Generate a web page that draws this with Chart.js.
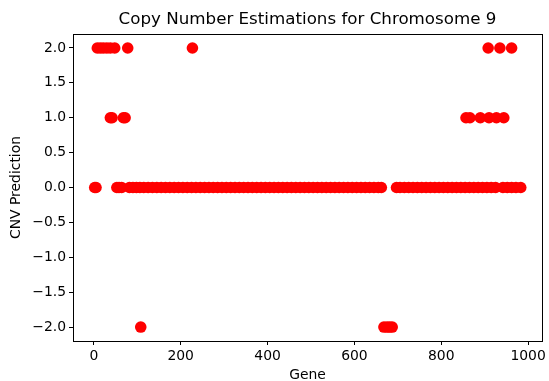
<!DOCTYPE html>
<html>
<head>
<meta charset="utf-8">
<script src="https://cdn.jsdelivr.net/npm/chart.js@4.4.0/dist/chart.umd.min.js"></script>
<style>
  html, body { margin: 0; padding: 0; background: #fff; }
  #wrap { width: 549px; height: 381px; }
</style>
</head>
<body>
<div id="wrap"><canvas id="grafik" width="549" height="381"></canvas></div>
<script>
// gene positions, grouped by predicted copy number
const genesAt2 = [8, 15, 22, 30, 38, 48, 78, 227, 908, 935, 962];
const genesAt1 = [38, 42, 68, 72, 857, 866, 890, 910, 927, 944];
const genesAtMinus2 = [108, 668, 675, 681, 687];
const genesAt0 = [2, 5, 53, 58, 64, 82, 90, 98, 106, 115, 125, 135, 145, 155, 165, 175, 185,
  195, 205, 215, 225, 235, 245, 255, 265, 275, 285, 295, 305, 315, 325, 335, 345, 355,
  365, 375, 385, 395, 405, 415, 425, 435, 445, 455, 465, 475, 485, 495, 505, 515, 525,
  535, 545, 555, 565, 575, 585, 595, 605, 615, 625, 635, 645, 655, 662,
  697, 705, 715, 725, 735, 745, 755, 765, 775, 785, 795, 805, 815, 825, 835, 845, 855,
  865, 875, 885, 895, 905, 915, 925, 942, 952, 962, 972, 983];

const xTicks = [0, 200, 400, 600, 800, 1000];
const yTicks = [-2, -1.5, -1, -0.5, 0, 0.5, 1, 1.5, 2];

document.addEventListener('DOMContentLoaded', function () {
    const titik = [];
    genesAt0.forEach(function (g) { titik.push({ x: g, y: 0 }); });
    genesAt1.forEach(function (g) { titik.push({ x: g, y: 1 }); });
    genesAt2.forEach(function (g) { titik.push({ x: g, y: 2 }); });
    genesAtMinus2.forEach(function (g) { titik.push({ x: g, y: -2 }); });

    const fontTick = { family: 'DejaVu Sans', size: 13.9 };

    // box around the plot area (all four spines)
    const bingkai = {
        id: 'bingkai',
        afterDraw: function (chart) {
            const a = chart.chartArea, c = chart.ctx;
            c.save();
            c.strokeStyle = '#000';
            c.lineWidth = 1;
            c.strokeRect(Math.round(a.left) + 0.5, Math.round(a.top) + 0.5,
                Math.round(a.right - a.left), Math.round(a.bottom - a.top));
            c.restore();
        }
    };

    new Chart(document.getElementById('grafik').getContext('2d'), {
        type: 'scatter',
        data: {
            datasets: [{
                data: titik,
                backgroundColor: '#ff0000',
                borderWidth: 0,
                pointRadius: 5.8,
                pointHoverRadius: 5.8
            }]
        },
        options: {
            responsive: false,
            animation: false,
            layout: { padding: { left: 8, right: 4, top: 0, bottom: 0 } },
            plugins: {
                legend: { display: false },
                tooltip: { enabled: false },
                title: {
                    display: true,
                    fullSize: false,
                    text: 'Copy Number Estimations for Chromosome 9',
                    color: '#000',
                    font: { family: 'DejaVu Sans', size: 16.7, weight: 'normal' },
                    padding: { top: 10, bottom: 4 }
                }
            },
            scales: {
                x: {
                    type: 'linear',
                    min: -48, max: 1032,
                    afterBuildTicks: function (s) { s.ticks = xTicks.map(function (v) { return { value: v }; }); },
                    afterFit: function (s) { s.height = 40; },
                    grid: { display: true, drawOnChartArea: false, drawTicks: true, tickLength: 4, color: '#000' },
                    border: { display: false },
                    ticks: {
                        color: '#000', font: fontTick, padding: 3, maxRotation: 0,
                        callback: function (v) { return String(v); }
                    },
                    title: { display: true, text: 'Gene', color: '#000', font: fontTick, padding: { top: 0, bottom: -3 } }
                },
                y: {
                    type: 'linear',
                    min: -2.2, max: 2.2,
                    afterBuildTicks: function (s) { s.ticks = yTicks.map(function (v) { return { value: v }; }); },
                    afterFit: function (s) { s.width = 65; },
                    grid: { display: true, drawOnChartArea: false, drawTicks: true, tickLength: 4, color: '#000' },
                    border: { display: false },
                    ticks: {
                        color: '#000', font: fontTick, padding: 3,
                        callback: function (v) { return Number(v).toFixed(1).replace('-', '\u2212'); }
                    },
                    title: { display: true, text: 'CNV Prediction', color: '#000', font: fontTick, padding: 0 }
                }
            }
        },
        plugins: [bingkai]
    });
});
</script>
</body>
</html>
